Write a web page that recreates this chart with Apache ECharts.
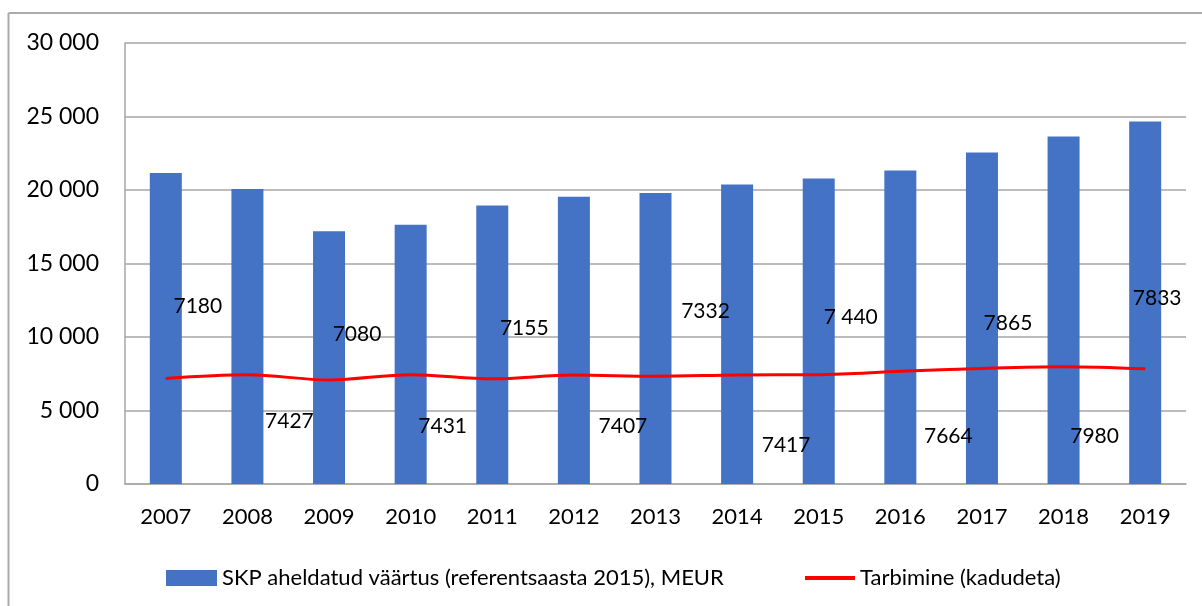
<!DOCTYPE html>
<html>
<head>
<meta charset="utf-8">
<script src="https://cdn.jsdelivr.net/npm/echarts@6/dist/echarts.min.js"></script>
<style>
html,body{margin:0;padding:0;background:#fff;}
#chart{width:1202px;height:606px;}
</style>
</head>
<body>
<div id="chart"></div>
<script>
// andmed
var years = ['2007','2008','2009','2010','2011','2012','2013','2014','2015','2016','2017','2018','2019'];
var skp = [21150,20060,17190,17640,18950,19540,19790,20380,20790,21330,22550,23640,24660];
var tarbimine = [7180,7427,7080,7431,7155,7407,7332,7417,7440,7664,7865,7980,7833];
var tarbLabels = ['7180','7427','7080','7431','7155','7407','7332','7417','7 440','7664','7865','7980','7833'];
var yTicks = [0,5000,10000,15000,20000,25000,30000];

// sildi nihked (käsitsi paigutatud nagu Excelis)
var labelOffsets = [[32,-72],[42,46],[28,-46],[32,51],[32,-51],[49,51],[50,-65],[49,70],[32,-57],[48,65],[26,-45],[31,70],[12,-71]];

var FONT = 'Lato';
var lineData = [];
for (var i = 0; i < tarbimine.length; i++) {
	lineData.push({
		value: tarbimine[i],
		label: {offset: labelOffsets[i]}
	});
}

var myChart = echarts.init(document.getElementById('chart'));
var option = {
	backgroundColor: '#fff',
	animation: false,
	textStyle: {fontFamily: FONT},
	graphic: [
		{type: 'line', shape: {x1: 8.5, y1: 13, x2: 1202, y2: 13}, style: {stroke: '#ababab', lineWidth: 2}},
		{type: 'line', shape: {x1: 8.5, y1: 13, x2: 8.5, y2: 606}, style: {stroke: '#ababab', lineWidth: 2}}
	],
	grid: {left: 125, right: 16, top: 43, bottom: 122},
	legend: [
		{
			left: 161, top: 562,
			itemWidth: 51, itemHeight: 16, itemGap: 5,
			icon: 'rect',
			textStyle: {fontFamily: FONT, fontSize: 22, color: '#000'},
			data: ['SKP aheldatud väärtus (referentsaasta 2015), MEUR']
		},
		{
			left: 800, top: 562,
			itemWidth: 50, itemHeight: 16,
			textStyle: {fontFamily: FONT, fontSize: 22, color: '#000'},
			data: [{name: 'Tarbimine (kadudeta)', icon: 'path://M0,6 L50,6 L50,10 L0,10 Z'}]
		}
	],
	xAxis: {
		type: 'category',
		data: years,
		axisTick: {show: false},
		axisLine: {lineStyle: {color: '#a6a6a6', width: 1.5}},
		axisLabel: {fontFamily: FONT, fontSize: 22, color: '#000', margin: 22}
	},
	yAxis: {
		type: 'value',
		min: yTicks[0],
		max: yTicks[yTicks.length - 1],
		interval: 5000,
		axisLine: {show: true, lineStyle: {color: '#a6a6a6', width: 1.5}},
		axisTick: {show: false},
		splitLine: {lineStyle: {color: '#a6a6a6', width: 1.5}},
		axisLabel: {
			fontFamily: FONT, fontSize: 23, color: '#000', margin: 26,
			formatter: function (v) {
				return String(v).replace(/\B(?=(\d{3})+(?!\d))/g, ' ');
			}
		}
	},
	series: [
		{
			name: 'SKP aheldatud väärtus (referentsaasta 2015), MEUR',
			type: 'bar',
			data: skp,
			barWidth: 32,
			itemStyle: {color: '#4472c4'}
		},
		{
			name: 'Tarbimine (kadudeta)',
			type: 'line',
			data: lineData,
			smooth: 0.35,
			symbol: 'circle',
			symbolSize: 1,
			itemStyle: {color: '#ff0000'},
			lineStyle: {color: '#ff0000', width: 3},
			label: {
				show: true,
				position: 'inside',
				fontFamily: FONT,
				fontSize: 21,
				color: '#000',
				formatter: function (p) { return tarbLabels[p.dataIndex]; }
			},
			z: 5
		}
	]
};

myChart.setOption(option);
</script>
</body>
</html>
